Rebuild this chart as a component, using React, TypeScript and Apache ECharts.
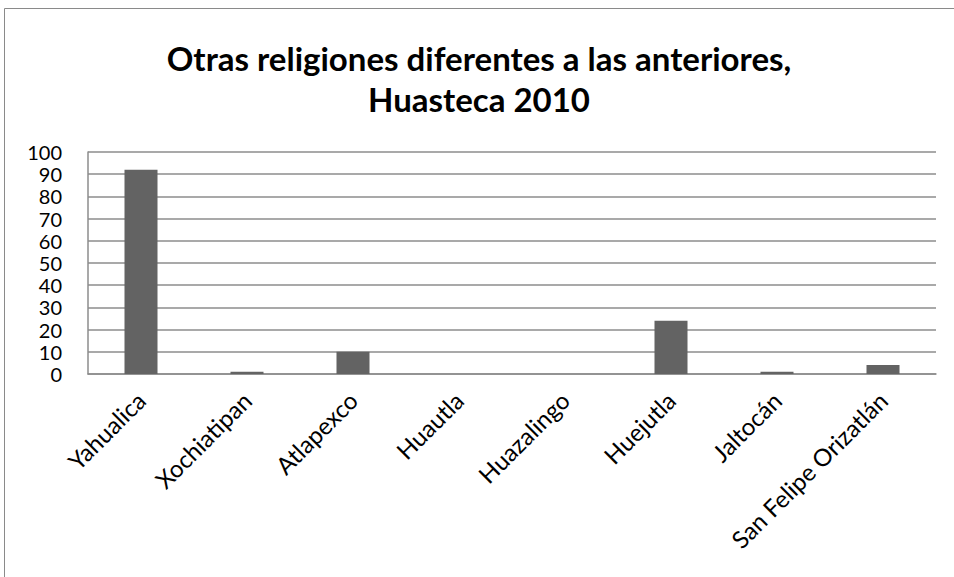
import React, { useEffect, useRef } from "react";
import * as echarts from "echarts";

const categories = [
  "Yahualica",
  "Xochiatipan",
  "Atlapexco",
  "Huautla",
  "Huazalingo",
  "Huejutla",
  "Jaltocán",
  "San Felipe Orizatlán",
];
const values = [92, 1, 10, 0, 0, 24, 1, 4];
const titleLines = ["Otras religiones diferentes a las anteriores,", "Huasteca 2010"];

export default function App() {
  const ref = useRef<HTMLDivElement>(null);
  useEffect(() => {
    if (!ref.current) return;
    const chart = echarts.init(ref.current, null, { renderer: "svg" });
    chart.setOption({
      animation: false,
      backgroundColor: "#ffffff",
      textStyle: { fontFamily: "Lato, Carlito, sans-serif" },
      title: {
        text: titleLines.join("\n"),
        left: 474,
        textAlign: "center",
        top: 32,
        textStyle: {
          fontFamily: "Lato, sans-serif",
          fontWeight: "bold",
          fontSize: 33,
          lineHeight: 41,
          color: "#000",
        },
      },
      graphic: [
        {
          type: "rect",
          shape: { x: 4.5, y: 8.5, width: 1000, height: 1000 },
          style: { fill: "none", stroke: "#8a8a8a", lineWidth: 1 },
          silent: true,
        },
      ],
      grid: { left: 88, top: 152, right: 18, bottom: 203, containLabel: false },
      xAxis: {
        type: "category",
        data: categories,
        axisLine: { show: true, lineStyle: { color: "#8c8c8c", width: 1.5 } },
        axisTick: { show: false },
        axisLabel: {
          rotate: 45,
          interval: 0,
          fontSize: 24,
          color: "#000",
          margin: 22,
          fontFamily: "Lato, sans-serif",
        },
      },
      yAxis: {
        type: "value",
        min: 0,
        max: 100,
        interval: 10,
        axisLine: { show: true, lineStyle: { color: "#8c8c8c", width: 1.5 } },
        axisTick: { show: false },
        splitLine: { show: true, lineStyle: { color: "#8c8c8c", width: 1.5 } },
        axisLabel: {
          fontSize: 20,
          lineHeight: 20,
          color: "#000",
          margin: 26,
          fontFamily: "Lato, sans-serif",
        },
      },
      series: [
        {
          type: "bar",
          data: values,
          barWidth: 33,
          itemStyle: { color: "#636363" },
        },
      ],
    });
    return () => chart.dispose();
  }, []);
  return (
    <div
      ref={ref}
      style={{ position: "fixed", left: 0, top: 0, width: 954, height: 577 }}
    />
  );
}
